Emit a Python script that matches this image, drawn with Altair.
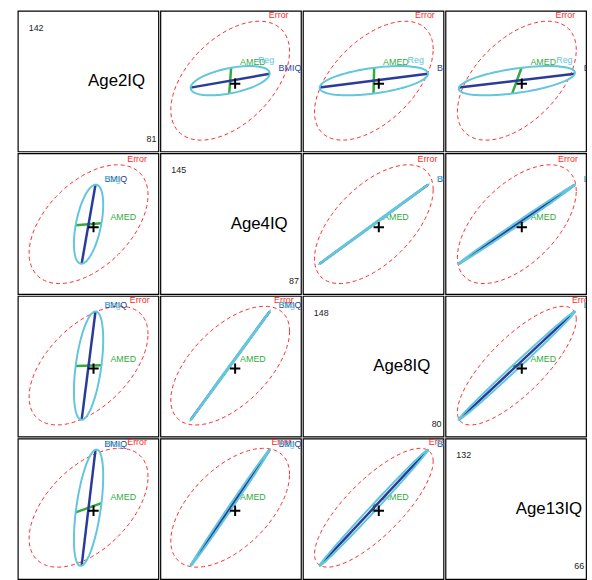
import numpy as np
import pandas as pd
import altair as alt

# ---- data (HE plot matrix) ----
variables = ["Age2IQ", "Age4IQ", "Age8IQ", "Age13IQ"]
var_min = [81, 87, 80, 66]
var_max = [142, 145, 148, 132]
grand_mean = [111.7, 115.8, 114.3, 99.5]
error_radius = [25.8, 24.5, 28.7, 27.9]
error_cor = [
    [1.00, 0.49, 0.53, 0.52],
    [0.49, 1.00, 0.58, 0.56],
    [0.53, 0.58, 1.00, 0.78],
    [0.52, 0.56, 0.78, 1.00],
]
amed_effect = [5.6, 0.4, 0.15, 2.2]
bmiq_effect = [3.0, 16.3, 26.2, 27.2]

term_names = ["Error", "AMED", "BMIQ", "Reg"]
term_colors = ["#FF2A2A", "#33AA3D", "#2A3C98", "#62C6DC"]
term_widths = [1.0, 2.5, 2.5, 2.0]

FONT = "Liberation Sans"
N = 121
angles = np.linspace(0, 2 * np.pi, N)


def term_shapes(i, j):
    """Return dict term -> DataFrame(x, y, ord) for panel with x=var j, y=var i."""
    mx, my = grand_mean[j], grand_mean[i]
    sx, sy = error_radius[j], error_radius[i]
    r = error_cor[i][j]
    S = np.array([[sx * sx, r * sx * sy], [r * sx * sy, sy * sy]])
    L = np.linalg.cholesky(S)
    e = L @ np.vstack([np.cos(angles), np.sin(angles)])
    out = {}
    out["Error"] = pd.DataFrame({"x": mx + e[0], "y": my + e[1], "ord": np.arange(N)})
    a = np.array([amed_effect[j], amed_effect[i]])
    b = np.array([bmiq_effect[j], bmiq_effect[i]])
    out["AMED"] = pd.DataFrame({"x": [mx - a[0], mx + a[0]], "y": [my - a[1], my + a[1]], "ord": [0, 1]})
    out["BMIQ"] = pd.DataFrame({"x": [mx - b[0], mx + b[0]], "y": [my - b[1], my + b[1]], "ord": [0, 1]})
    rx = mx + a[0] * np.cos(angles) + b[0] * np.sin(angles)
    ry = my + a[1] * np.cos(angles) + b[1] * np.sin(angles)
    out["Reg"] = pd.DataFrame({"x": rx, "y": ry, "ord": np.arange(N)})
    return out


def scales(i, j):
    xs = alt.Scale(domain=[var_min[j], var_max[j]], nice=False, zero=False)
    ys = alt.Scale(domain=[var_min[i], var_max[i]], nice=False, zero=False)
    return xs, ys


def diag_panel(k):
    xs, ys = scales(k, k)
    name_df = pd.DataFrame({"x": [(var_min[k] + var_max[k]) / 2], "y": [(var_min[k] + var_max[k]) / 2], "t": [variables[k]]})
    max_df = pd.DataFrame({"x": [var_min[k]], "y": [var_max[k]], "t": [str(var_max[k])]})
    min_df = pd.DataFrame({"x": [var_max[k]], "y": [var_min[k]], "t": [str(var_min[k])]})
    enc = dict(
        x=alt.X("x:Q", scale=xs, axis=None),
        y=alt.Y("y:Q", scale=ys, axis=None),
        text="t:N",
    )
    name = alt.Chart(name_df).mark_text(align="left", baseline="middle", font=FONT, fontSize=17, color="black").encode(**enc)
    mx = alt.Chart(max_df).mark_text(align="left", baseline="middle", font=FONT, fontSize=9, color="#222", dx=11, dy=17).encode(**enc)
    mn = alt.Chart(min_df).mark_text(align="right", baseline="middle", font=FONT, fontSize=9, color="#222", dx=-2, dy=-13).encode(**enc)
    return alt.layer(name, mx, mn).properties(width=142, height=142)


def off_panel(i, j):
    xs, ys = scales(i, j)
    shapes = term_shapes(i, j)
    layers = []
    for t, col, w in zip(term_names, term_colors, term_widths):
        df = shapes[t]
        mk = dict(color=col, strokeWidth=w, clip=True)
        if t == "Error":
            mk["strokeDash"] = [4, 3]
        layers.append(
            alt.Chart(df).mark_line(**mk).encode(
                x=alt.X("x:Q", scale=xs, axis=None),
                y=alt.Y("y:Q", scale=ys, axis=None),
                order=alt.Order("ord:Q"),
            )
        )
        top = df.sort_values(["y", "x"], ascending=[False, False]).iloc[0]
        lab = pd.DataFrame({"x": [top["x"]], "y": [top["y"]], "t": [t]})
        layers.append(
            alt.Chart(lab).mark_text(align="left", baseline="middle", font=FONT, fontSize=9,
                                     color=col, dx=9, dy=-6, clip=True).encode(
                x=alt.X("x:Q", scale=xs, axis=None),
                y=alt.Y("y:Q", scale=ys, axis=None),
                text="t:N",
            )
        )
    ctr = pd.DataFrame({"x": [grand_mean[j]], "y": [grand_mean[i]]})
    layers.append(
        alt.Chart(ctr).mark_point(shape="M-1,0L1,0M0,-1L0,1", size=110, strokeWidth=2,
                                  color="black", filled=False, opacity=1, xOffset=5, yOffset=3).encode(
            x=alt.X("x:Q", scale=xs, axis=None),
            y=alt.Y("y:Q", scale=ys, axis=None),
        )
    )
    return alt.layer(*layers).properties(width=142, height=142)


rows = []
for i in range(4):
    row = []
    for j in range(4):
        row.append(diag_panel(i) if i == j else off_panel(i, j))
    rows.append(alt.hconcat(*row, spacing=0))

chart = alt.vconcat(*rows, spacing=0).properties(
    padding={"left": 17, "top": 7, "right": 5, "bottom": 2},
    background="white",
).configure_view(stroke="black", strokeWidth=1.2)

chart.save("out.html", embed_options={"renderer": "svg", "actions": False})
